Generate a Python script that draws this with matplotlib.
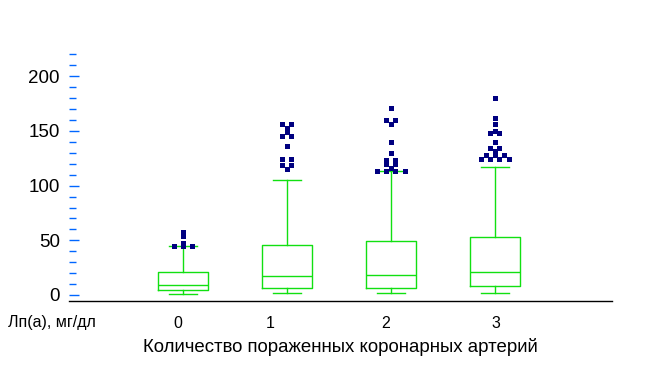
import numpy as np
import matplotlib.pyplot as plt
from matplotlib.ticker import MultipleLocator

plt.rcParams['font.family'] = ['Liberation Sans', 'DejaVu Sans']

# box stats (Lp(a), mg/dl)
groups = ['0', '1', '2', '3']
q1 = [4.3, 6.1, 6.1, 8.0]
med = [8.9, 17.4, 18.0, 20.7]
q3 = [20.8, 45.4, 49.0, 52.8]
whislo = [1.0, 1.5, 1.5, 1.8]
whishi = [44.8, 105.5, 113.3, 116.7]

# outliers, repeated values are drawn side by side
out0 = [57.6, 53.6, 47.8, 45.0, 45.0, 45.0]
out1 = [156.0, 156.0, 153.0, 148.7, 145.6, 145.6, 136.5, 124.6, 124.6, 118.5, 118.5, 115.2]
out2 = [171.2, 160.3, 160.3, 156.6, 140.1, 130.0, 123.7, 123.7, 119.7, 119.7, 116.4,
        113.6, 113.6, 113.6, 113.6]
out3 = [180.4, 162.0, 156.6, 150.2, 147.8, 147.8, 140.1, 134.7, 134.7, 131.6,
        128.3, 128.3, 128.3, 124.3, 124.3, 124.3, 124.3]
outliers = [out0, out1, out2, out3]

label_pos = [0.95, 1.84, 2.95, 4.01]

green = '#11e011'
navy = '#000080'

fig = plt.figure(figsize=(6.48, 3.82), dpi=100)
ax = fig.add_axes([69/648, 81/382, 543/648, 252/382])

stats = []
for i in range(4):
    stats.append(dict(med=med[i], q1=q1[i], q3=q3[i], whislo=whislo[i],
                      whishi=whishi[i], fliers=[]))
positions = np.arange(1, 5)
lp = dict(color=green, linewidth=1)
ax.bxp(stats, positions=positions, widths=0.49, capwidths=0.26,
       boxprops=lp, whiskerprops=lp, capprops=lp, medianprops=lp,
       showfliers=False, manage_ticks=False)

step = 0.0433
for pos, vals in zip(positions, outliers):
    vals = np.array(vals)
    for v in np.unique(vals):
        n = np.sum(vals == v)
        offs = (np.arange(n) - (n - 1) / 2) * 2 * step
        ax.plot(pos + offs, [v] * n, 's', color=navy, markersize=3.6,
                markeredgewidth=0, linestyle='none')

ax.set_xlim(-0.096, 5.125)
ax.set_ylim(-5.5, 225)

for s in ['top', 'right', 'left']:
    ax.spines[s].set_visible(False)
ax.spines['bottom'].set_color('black')
ax.spines['bottom'].set_linewidth(1)

ax.yaxis.set_major_locator(MultipleLocator(50))
ax.yaxis.set_minor_locator(MultipleLocator(10))
ax.tick_params(axis='y', which='major', direction='in', length=7.2, width=1,
               color='#0066ff', labelsize=13.5, pad=6.5)
ax.tick_params(axis='y', which='minor', direction='in', length=5, width=1,
               color='#0066ff')

ax.set_xticks(label_pos)
ax.set_xticklabels(groups, fontsize=11.5)
ax.tick_params(axis='x', length=0, pad=11)
ax.set_xlabel('Количество пораженных коронарных артерий', fontsize=13.4, labelpad=5)

fig.text(8/648, 1 - 322/382, 'Лп(а), мг/дл', fontsize=11.5, va='center', ha='left')

fig.savefig('out.png', dpi=100)
